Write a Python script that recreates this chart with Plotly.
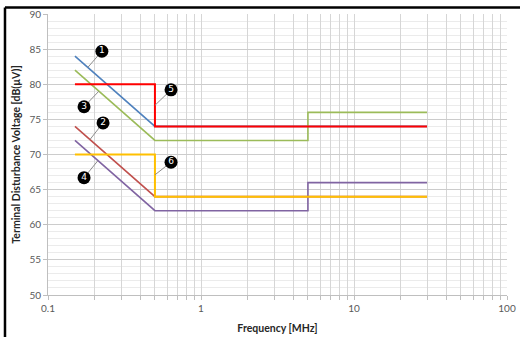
import numpy as np
import plotly.graph_objects as go

# ---- data ----
blue_x = [0.15, 0.5, 30]
blue_y = [84, 74, 74]
brown_x = [0.15, 0.5, 30]
brown_y = [74, 64, 64]
green_x = [0.15, 0.5, 5, 5, 30]
green_y = [82, 72, 72, 76, 76]
purple_x = [0.15, 0.5, 5, 5, 30]
purple_y = [72, 62, 62, 66, 66]
red_x = [0.15, 0.5, 0.5, 30]
red_y = [80, 80, 74, 74]
yellow_x = [0.15, 0.5, 0.5, 30]
yellow_y = [70, 70, 64, 64]

label_text = ["1", "2", "3", "4", "5", "6"]
y_ticks = [50, 55, 60, 65, 70, 75, 80, 85, 90]
x_tick_labels = {0.1: "0.1", 1: "1", 10: "10", 100: "100"}

series = [
    ("blue", blue_x, blue_y, "#4F81BD", 1.6),
    ("brown", brown_x, brown_y, "#C0504D", 1.6),
    ("green", green_x, green_y, "#9BBB59", 1.6),
    ("purple", purple_x, purple_y, "#8064A2", 1.6),
    ("red", red_x, red_y, "#FF0000", 2.0),
    ("yellow", yellow_x, yellow_y, "#FFC000", 2.0),
]

fig = go.Figure()
for name, xs, ys, col, w in series:
    fig.add_trace(go.Scatter(x=xs, y=ys, mode="lines", name=name,
                             line=dict(color=col, width=w), hoverinfo="skip"))

# ---- callout labels (layout positions) ----
def on_line(xs, ys, xq):
    return float(np.interp(np.log10(xq), np.log10(xs[:2]), ys[:2]))

callouts = [
    # label, label pos (x,y), anchor x, anchor y
    ("1", (0.225, 84.7), 0.182, on_line(blue_x, blue_y, 0.182)),
    ("3", (0.172, 76.8), 0.215, on_line(green_x, green_y, 0.215)),
    ("5", (0.637, 79.2), 0.5, 77.0),
    ("2", (0.229, 74.5), 0.188, on_line(brown_x, brown_y, 0.188)),
    ("6", (0.637, 68.9), 0.5, 67.1),
    ("4", (0.172, 66.7), 0.212, on_line(purple_x, purple_y, 0.212)),
]
for lab, (lx, ly), ax_, ay_ in callouts:
    fig.add_trace(go.Scatter(x=[ax_, lx], y=[ay_, ly], mode="lines",
                             line=dict(color="#8c8c8c", width=1),
                             hoverinfo="skip", showlegend=False))
fig.add_trace(go.Scatter(
    x=[c[1][0] for c in callouts], y=[c[1][1] for c in callouts],
    mode="markers+text", text=[c[0] for c in callouts],
    textposition="middle center",
    textfont=dict(color="white", size=9, family="DejaVu Sans"),
    marker=dict(size=13, color="black", line=dict(width=0)),
    hoverinfo="skip", showlegend=False, cliponaxis=False))

# x tick values at 1..9 per decade
xt = []
for d in [0.1, 1, 10]:
    for m in range(1, 10):
        xt.append(round(d * m, 6))
xt.append(100)
xtt = [x_tick_labels.get(v, "") for v in xt]

fig.update_layout(
    width=520, height=337,
    margin=dict(l=48, r=13, t=14, b=42, autoexpand=False),
    plot_bgcolor="white", paper_bgcolor="white",
    showlegend=False,
    font=dict(family="Lato, Open Sans, sans-serif", color="#595959", size=10),
    xaxis=dict(
        type="log", range=[-1, 2], automargin=False,
        tickvals=xt, ticktext=xtt,
        showgrid=True, gridcolor="#d6d6d6", gridwidth=1,
        ticks="outside", ticklen=4, tickcolor="#bfbfbf",
        showline=True, linecolor="#bfbfbf", linewidth=1,
        zeroline=False,
        title=dict(text="<b>Frequency [MHz]</b>",
                   font=dict(size=10.5, color="#262626"), standoff=11),
        tickfont=dict(size=10, color="#595959"),
    ),
    yaxis=dict(
        range=[50, 90], tickvals=y_ticks, automargin=False,
        showgrid=True, gridcolor="#cccccc", gridwidth=1,
        minor=dict(dtick=1, showgrid=True, gridcolor="#ebebeb", ticks=""),
        ticks="outside", ticklen=4, tickcolor="#bfbfbf",
        showline=True, linecolor="#bfbfbf", linewidth=1,
        zeroline=False,
        title=dict(text="<b>Terminal Disturbance Voltage [dB(µV)]</b>",
                   font=dict(size=10.5, color="#262626"), standoff=6),
        tickfont=dict(size=10, color="#595959"),
    ),
)

# outer frame (cropped chart border: top and left only)
fig.add_shape(type="line", xref="paper", yref="paper",
              x0=-0.0937, x1=-0.0937, y0=-0.2, y1=1.0231,
              line=dict(color="black", width=2.5))
fig.add_shape(type="line", xref="paper", yref="paper",
              x0=-0.0937, x1=1.05, y0=1.0231, y1=1.0231,
              line=dict(color="black", width=2.5))

fig.write_html("out.html",
               config={"displayModeBar": False, "staticPlot": True},
               post_script="document.body.style.margin='0';"
                           "document.body.style.overflow='hidden';")
